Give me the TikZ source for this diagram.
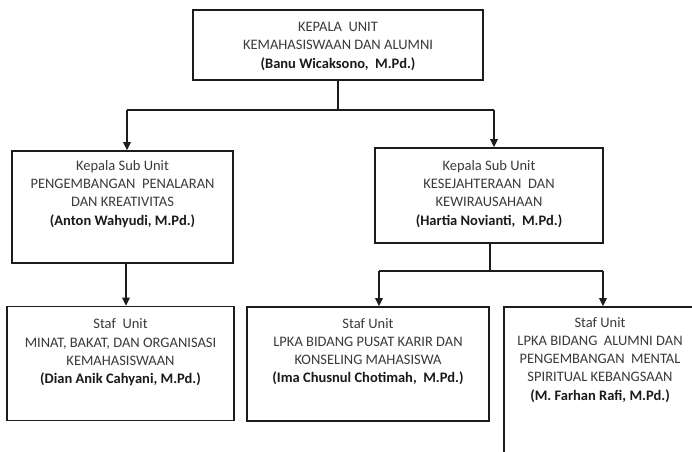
\documentclass[tikz,border=0pt]{standalone}
\usepackage{fontspec}
\setmainfont{Carlito}
\usetikzlibrary{positioning,arrows.meta}
\definecolor{txtgray}{HTML}{3A3A3A}
\definecolor{namegray}{HTML}{1A1A1A}
\definecolor{linegray}{HTML}{1C1C1C}
\newcommand{\nama}[1]{\textbf{\color{namegray}#1}}
\tikzset{
  unitbox/.style args={#1,#2}{ draw=linegray, line width=1.6pt, fill=white, minimum width=#1, minimum height=#2, inner sep=0pt }
}
\tikzset{
  unittxt/.style={ align=center, inner sep=0pt, text=txtgray, font=\fontsize{14.5}{18.2}\selectfont }
}
\tikzset{
  link/.style={ draw=linegray, line width=1.6pt },
  arr/.style={ link, -{Triangle[length=8pt,width=7.5pt]} }
}

\begin{document}
\begin{tikzpicture}[x=1pt, y=-1pt]
      \useasboundingbox (0,0) rectangle (692,451);
      \fill[white] (0,0) rectangle (692,451);
      \clip (0,0) rectangle (692,451);

      % boxes
      \node[unitbox={290pt,70pt}] (kepala) at (338,45) {};
      \node[unitbox={221pt,112pt}] (penalaran) at (122.5,207) {};
      \node[unitbox={228pt,95pt}] (kesejahteraan) at (489,195.5) {};
      \node[unitbox={227pt,114pt}] (minat) at (120.5,363.5) {};
      \node[unitbox={242pt,114pt}] (karir) at (368,364) {};
      \node[unitbox={192pt,200pt}] (alumni) at (600,407) {};

      % texts
      \node[unittxt, below=13pt of kepala.north] (kepalaT)
        {KEPALA~ UNIT\\KEMAHASISWAAN DAN ALUMNI\\\nama{(Banu Wicaksono,~ M.Pd.)}};
      \node[unittxt, below=10pt of penalaran.north] (penalaranT)
        {Kepala Sub Unit\\PENGEMBANGAN~ PENALARAN\\DAN KREATIVITAS\\\nama{(Anton Wahyudi, M.Pd.)}};
      \node[unittxt, below=13pt of kesejahteraan.north] (kesejahteraanT)
        {Kepala Sub Unit\\KESEJAHTERAAN~ DAN\\KEWIRAUSAHAAN\\\nama{(Hartia Novianti,~ M.Pd.)}};
      \node[unittxt, below=13pt of minat.north] (minatT)
        {Staf~ Unit\\MINAT, BAKAT, DAN ORGANISASI\\KEMAHASISWAAN\\\nama{(Dian Anik Cahyani, M.Pd.)}};
      \node[unittxt, below=12pt of karir.north] (karirT)
        {Staf Unit\\LPKA BIDANG PUSAT KARIR DAN\\KONSELING MAHASISWA\\\nama{(Ima Chusnul Chotimah,~ M.Pd.)}};
      \node[unittxt, below=11pt of alumni.north] (alumniT)
        {Staf Unit\\LPKA BIDANG~ ALUMNI DAN\\PENGEMBANGAN~ MENTAL\\SPIRITUAL KEBANGSAAN\\\nama{(M. Farhan Rafi, M.Pd.)}};

      % connectors
      \coordinate (top) at (338,110);
      \coordinate (topL) at (127,110);
      \coordinate (topR) at (494,110);
      \draw[link] (kepala.south) -- (top);
      \draw[link] (topL) -- (topR);
      \draw[arr] (topL) -- (topL |- penalaran.north);
      \draw[arr] (topR) -- (topR |- kesejahteraan.north);

      \coordinate (midL) at (126,0);
      \draw[arr] (midL |- penalaran.south) -- (midL |- minat.north);

      \coordinate (sub) at (490,271);
      \coordinate (subL) at (379,271);
      \coordinate (subR) at (603,271);
      \draw[link] (sub |- kesejahteraan.south) -- (sub);
      \draw[link] (subL) -- (subR);
      \draw[arr] (subL) -- (subL |- karir.north);
      \draw[arr] (subR) -- (subR |- alumni.north);
\end{tikzpicture}
\end{document}
